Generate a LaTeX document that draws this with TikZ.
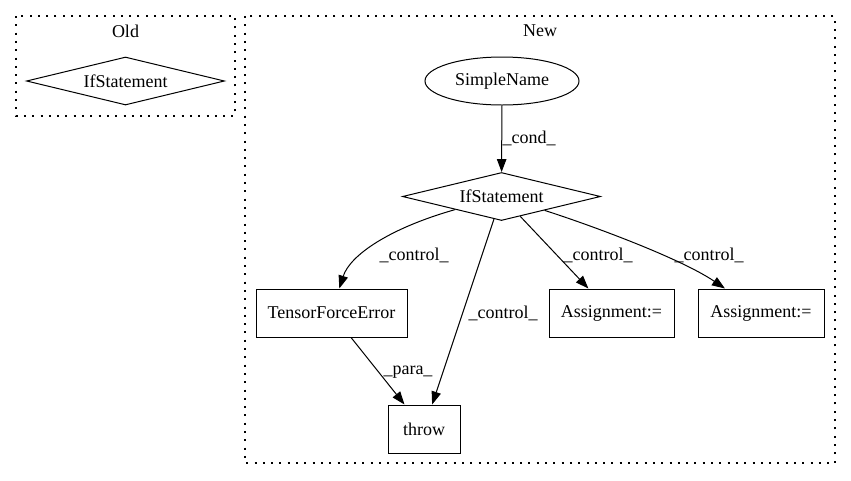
\documentclass[tikz,border=0pt]{standalone}
\usepackage{fontspec}
\setmainfont{Liberation Serif}
\usetikzlibrary{shapes.geometric,arrows.meta}
\begin{document}
\begin{tikzpicture}[x=1pt,y=-1pt,
  font=\fontsize{18}{21}\selectfont,
  cluster/.style={draw, line width=1.3pt, dash pattern=on 2pt off 6.3pt},
  dia/.style={diamond, draw, line width=1pt, minimum width=198pt, minimum height=48pt, inner sep=0pt, aspect=4},
  boxn/.style={rectangle, draw, line width=1pt, minimum height=48pt, inner sep=0pt},
  ell/.style={ellipse, draw, line width=1pt, minimum width=154pt, minimum height=48pt, inner sep=0pt},
  arr/.style={-{Triangle[length=13pt,width=9.5pt]}, line width=1pt},
  lab/.style={inner sep=0pt}]
\useasboundingbox (0,0) rectangle (851,480);
% clusters
\draw[cluster] (16,16) rectangle (235,116);
\draw[cluster] (245,16) rectangle (835,463);
\node[lab] (oldlab) at (125.5,31) {Old};
\node[lab] (newlab) at (540,31) {New};
% nodes
\node[dia] (oldif) at (125.5,81) {IfStatement};
\node[ell] (sn) at (502,81) {SimpleName};
\node[dia] (if) at (501.5,196.5) {IfStatement};
\node[boxn, minimum width=151pt] (tfe) at (331.5,313) {TensorForceError};
\node[boxn, minimum width=72pt] (thr) at (424,429) {throw};
\node[boxn, minimum width=125pt] (a1) at (611.5,313) {Assignment:=};
\node[boxn, minimum width=126pt] (a2) at (761,313) {Assignment:=};
% edges
\draw[arr] (sn) -- (if);
\node[lab] (lcond) at (529,138) {\_cond\_};
\draw[arr] (if) .. controls (390,228) and (350,255) .. (tfe);
\node[lab] (lc1) at (414,255) {\_control\_};
\draw[arr] (if) -- (thr);
\node[lab] (lc2) at (503,313) {\_control\_};
\draw[arr] (if) -- (a1);
\node[lab] (lc3) at (598,255) {\_control\_};
\draw[arr] (if) .. controls (590,225) and (680,258) .. (a2);
\node[lab] (lc4) at (709,255) {\_control\_};
\draw[arr] (tfe) -- (thr);
\node[lab] (lpara) at (408,372) {\_para\_};
\end{tikzpicture}
\end{document}
